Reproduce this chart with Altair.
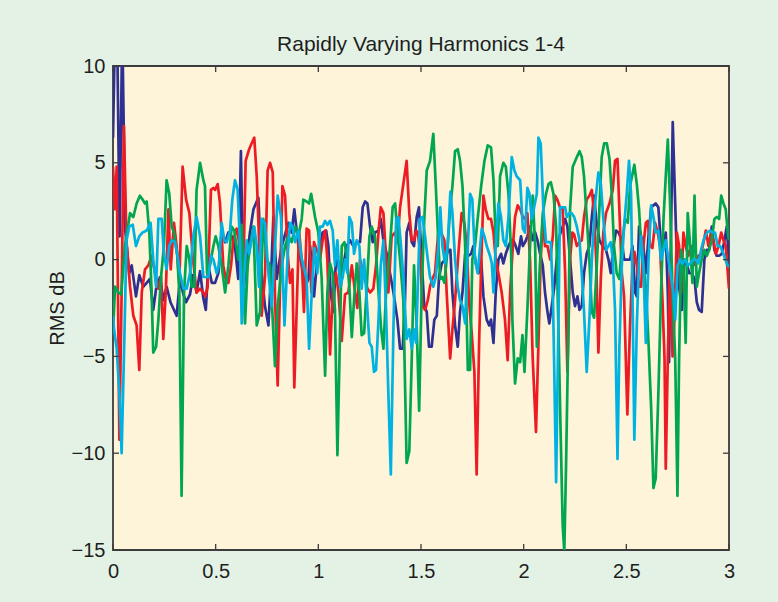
import altair as alt
import pandas as pd

TITLE = "Rapidly Varying Harmonics 1-4"
Y_LABEL = "RMS dB"
X_TICKS = [0, 0.5, 1, 1.5, 2, 2.5, 3]
Y_TICKS = [-15, -10, -5, 0, 5, 10]
SERIES_NAMES = ["Harmonic 1", "Harmonic 2", "Harmonic 3", "Harmonic 4"]
SERIES_COLORS = ["#2E3192", "#ED1C24", "#00A651", "#00B2E2"]

# (time, RMS dB)
BLUE = [(0.0,6.3),(0.01,12),(0.02,12),(0.032,1.2),(0.045,12),(0.06,1.5),(0.079,-0.7),(0.091,-0.3),(0.112,-1.9),(0.128,-0.8),(0.148,-1.4),(0.164,-1.2),(0.18,-1.0),(0.196,-2.6),(0.21,-1.5),(0.229,-0.9),(0.245,-2.1),(0.261,-1.4),(0.28,-2.2),(0.31,-2.9),(0.326,-1.0),(0.343,-1.8),(0.356,-2.2),(0.375,-1.8),(0.39,-0.8),(0.407,-1.7),(0.424,-0.6),(0.44,-2.0),(0.452,-2.6),(0.464,-0.3),(0.481,-1.2),(0.497,-1.2),(0.513,-0.7),(0.529,1.4),(0.546,0.9),(0.562,1.4),(0.578,1.2),(0.594,0.7),(0.61,-1.0),(0.623,5.6),(0.635,-1.7),(0.651,0.0),(0.667,1.4),(0.684,2.6),(0.708,3.2),(0.724,-0.7),(0.74,-2.4),(0.757,-3.4),(0.773,0.0),(0.781,2.2),(0.797,-1.0),(0.822,0.7),(0.854,1.9),(0.87,1.4),(0.883,2.6),(0.903,0.7),(0.919,-0.3),(0.935,-1.4),(0.952,-1.0),(0.96,0.7),(0.973,-0.9),(0.979,-1.9),(0.992,-0.3),(1.005,0.5),(1.021,1.4),(1.038,1.5),(1.049,0.7),(1.06,-1.7),(1.073,-2.7),(1.086,0.0),(1.098,-0.2),(1.109,-1.4),(1.122,-0.3),(1.138,0.7),(1.154,1.0),(1.171,0.7),(1.187,0.9),(1.203,0.9),(1.216,2.7),(1.228,3.0),(1.239,2.9),(1.252,1.7),(1.265,0.9),(1.276,1.4),(1.293,1.5),(1.304,2.1),(1.317,1.0),(1.333,0.3),(1.349,-0.7),(1.366,-1.7),(1.385,-3.1),(1.398,-4.6),(1.411,-4.6),(1.422,-2.1),(1.43,1.4),(1.443,1.9),(1.455,0.9),(1.466,0.7),(1.479,2.2),(1.49,2.7),(1.503,0.0),(1.516,-2.4),(1.528,-2.7),(1.539,-4.5),(1.552,-4.5),(1.565,-3.1),(1.577,-2.9),(1.588,-0.9),(1.601,-0.2),(1.617,0.0),(1.633,0.5),(1.643,0.5),(1.653,-1.7),(1.666,-3.4),(1.679,-4.5),(1.69,-2.7),(1.702,-1.7),(1.715,0.3),(1.731,0.2),(1.744,0.3),(1.755,0.7),(1.767,-0.2),(1.78,-0.7),(1.793,0.0),(1.804,-1.9),(1.82,-3.1),(1.832,-3.4),(1.841,-3.1),(1.853,-4.3),(1.864,-1.7),(1.877,0.0),(1.89,0.3),(1.901,-0.2),(1.913,0.3),(1.926,0.7),(1.939,1.0),(1.95,1.0),(1.961,0.7),(1.974,0.3),(1.987,1.2),(1.996,0.7),(2.007,0.9),(2.018,1.2),(2.031,1.7),(2.044,1.0),(2.056,1.4),(2.067,1.0),(2.08,0.3),(2.093,-0.3),(2.104,-1.7),(2.116,-2.7),(2.125,-3.3),(2.137,-2.4),(2.148,-1.5),(2.161,0.0),(2.174,1.2),(2.19,1.7),(2.202,2.1),(2.213,1.7),(2.226,0.0),(2.239,-1.7),(2.25,-2.4),(2.262,-1.9),(2.272,-2.6),(2.283,-2.4),(2.294,-0.7),(2.307,0.3),(2.32,0.7),(2.332,2.2),(2.343,3.3),(2.353,2.1),(2.369,1.0),(2.385,0.7),(2.401,0.5),(2.413,0.0),(2.424,-0.7),(2.437,0.7),(2.45,1.5),(2.462,1.4),(2.478,1.0),(2.489,0.0),(2.507,0.0),(2.518,0.0),(2.53,0.7),(2.543,-1.7),(2.551,-1.9),(2.562,1.7),(2.572,1.2),(2.583,0.7),(2.595,-0.7),(2.608,1.2),(2.621,2.7),(2.632,2.8),(2.643,2.9),(2.656,2.7),(2.669,0.7),(2.681,0.7),(2.692,1.4),(2.702,-1.7),(2.708,-5.3),(2.718,1.7),(2.726,7.1),(2.738,2.9),(2.746,0.0),(2.757,-1.4),(2.77,-2.6),(2.783,0.0),(2.794,-0.2),(2.806,-0.7),(2.819,-0.7),(2.832,-1.0),(2.843,-2.2),(2.854,-2.6),(2.867,-2.7),(2.88,0.0),(2.892,0.5),(2.903,0.5),(2.916,1.7),(2.929,0.5),(2.94,0.2),(2.952,0.2),(2.965,0.3),(2.978,1.0),(2.989,1.7),(3.0,-0.2)]

RED = [(0.0,4.8),(0.01,2.6),(0.018,4.8),(0.031,-9.3),(0.042,-1.7),(0.053,6.9),(0.066,0.9),(0.083,-1.4),(0.099,-2.9),(0.115,-3.4),(0.128,-5.7),(0.14,-1.7),(0.156,-0.5),(0.172,-0.3),(0.188,0.2),(0.205,-0.7),(0.221,-1.5),(0.234,-0.9),(0.245,-4.1),(0.258,-1.4),(0.27,2.6),(0.281,-0.5),(0.297,1.9),(0.31,0.7),(0.323,-1.2),(0.339,4.8),(0.356,3.1),(0.372,2.4),(0.388,0.2),(0.407,-1.7),(0.424,-1.5),(0.44,-1.7),(0.45,-1.9),(0.461,-1.4),(0.477,3.6),(0.489,3.7),(0.497,3.6),(0.51,3.9),(0.521,2.9),(0.537,-0.3),(0.549,-1.0),(0.562,-1.2),(0.575,-0.3),(0.586,1.0),(0.602,1.6),(0.619,0.7),(0.635,-0.7),(0.646,5.1),(0.663,5.7),(0.675,6.0),(0.688,6.3),(0.7,4.3),(0.713,0.5),(0.724,-2.9),(0.74,-0.9),(0.753,4.6),(0.765,5.0),(0.778,4.5),(0.789,-1.9),(0.802,-6.5),(0.814,-1.2),(0.825,3.8),(0.838,3.3),(0.851,0.3),(0.862,-1.2),(0.874,-0.5),(0.883,-6.6),(0.895,-2.4),(0.906,1.5),(0.919,0.0),(0.93,-2.7),(0.943,1.6),(0.955,1.5),(0.966,-1.7),(0.979,0.9),(0.992,0.5),(1.008,0.0),(1.021,1.0),(1.033,1.5),(1.044,0.0),(1.057,-4.9),(1.07,-1.7),(1.086,-0.7),(1.098,-1.7),(1.114,-4.2),(1.13,-1.8),(1.146,-1.7),(1.163,-0.3),(1.179,-1.7),(1.19,-2.5),(1.203,0.0),(1.219,-0.7),(1.239,-1.5),(1.252,-1.7),(1.268,-1.5),(1.281,-0.3),(1.293,1.4),(1.304,2.7),(1.317,2.4),(1.33,0.0),(1.341,-1.7),(1.357,1.2),(1.374,1.4),(1.385,0.9),(1.398,2.7),(1.414,3.9),(1.43,5.1),(1.443,2.4),(1.455,1.0),(1.466,1.0),(1.477,1.5),(1.484,1.4),(1.495,0.5),(1.507,-2.4),(1.52,-2.6),(1.533,-2.1),(1.544,-1.4),(1.555,-1.0),(1.568,-0.7),(1.585,1.5),(1.598,1.4),(1.614,1.0),(1.625,-1.7),(1.642,-5.1),(1.653,-3.6),(1.666,-2.1),(1.682,0.3),(1.698,2.4),(1.711,1.9),(1.723,0.7),(1.734,-2.2),(1.747,-3.8),(1.76,-5.8),(1.771,-11.1),(1.783,-4.3),(1.793,-0.3),(1.804,3.3),(1.815,2.6),(1.828,2.1),(1.841,2.1),(1.853,1.4),(1.864,0.0),(1.877,-0.7),(1.893,-1.7),(1.909,-3.1),(1.922,-5.2),(1.934,-1.7),(1.945,0.3),(1.958,2.2),(1.971,2.8),(1.983,2.6),(1.996,2.2),(2.007,2.1),(2.018,2.4),(2.031,0.0),(2.044,-5.1),(2.06,-8.9),(2.072,-4.3),(2.083,0.0),(2.093,2.1),(2.104,0.7),(2.116,0.7),(2.129,0.0),(2.142,1.2),(2.153,3.3),(2.164,3.1),(2.177,2.7),(2.19,2.6),(2.202,-0.7),(2.213,-5.8),(2.226,0.0),(2.237,1.4),(2.246,1.3),(2.259,0.7),(2.272,0.9),(2.283,1.0),(2.294,2.2),(2.307,3.1),(2.32,3.3),(2.332,3.6),(2.343,2.4),(2.353,0.0),(2.364,-4.8),(2.376,-0.9),(2.388,1.4),(2.401,2.4),(2.418,2.9),(2.434,3.6),(2.445,5.1),(2.457,5.2),(2.466,2.6),(2.478,-0.7),(2.489,-1.9),(2.505,-8.0),(2.518,-3.4),(2.53,-0.3),(2.539,0.4),(2.551,-0.3),(2.562,-1.4),(2.572,-1.4),(2.583,0.7),(2.595,1.9),(2.604,2.0),(2.616,0.7),(2.627,0.6),(2.64,1.9),(2.653,1.4),(2.664,0.7),(2.676,-2.1),(2.686,-5.1),(2.692,-10.8),(2.702,-5.1),(2.713,0.0),(2.725,-5.0),(2.734,-3.1),(2.746,1.4),(2.757,0.7),(2.767,-1.7),(2.778,1.4),(2.789,0.7),(2.802,0.2),(2.815,0.7),(2.827,-0.3),(2.838,0.0),(2.851,0.2),(2.864,0.3),(2.876,0.9),(2.887,1.5),(2.9,0.7),(2.913,1.4),(2.924,1.0),(2.936,0.3),(2.949,0.7),(2.962,1.4),(2.973,1.0),(2.984,0.7),(3.0,-1.5)]

GREEN = [(0.0,-3.8),(0.01,-1.4),(0.026,-1.7),(0.04,-1.8),(0.058,0.7),(0.083,2.4),(0.099,2.2),(0.115,2.9),(0.131,3.3),(0.144,3.1),(0.156,2.9),(0.164,3.0),(0.177,1.4),(0.188,-1.7),(0.196,-4.8),(0.21,-4.5),(0.221,-3.1),(0.234,-0.9),(0.248,0.7),(0.261,4.1),(0.274,3.4),(0.286,1.7),(0.297,1.4),(0.313,0.2),(0.323,-1.7),(0.334,-12.2),(0.346,-1.7),(0.359,0.7),(0.372,0.0),(0.383,-1.4),(0.396,-1.4),(0.407,3.6),(0.424,5.0),(0.44,4.1),(0.448,3.8),(0.458,-0.7),(0.472,-0.3),(0.489,0.7),(0.5,1.2),(0.513,0.7),(0.529,-0.3),(0.546,-1.7),(0.562,-0.3),(0.578,1.7),(0.591,1.5),(0.61,0.0),(0.627,1.8),(0.643,-3.3),(0.656,-0.3),(0.667,0.7),(0.684,1.7),(0.7,-3.4),(0.716,-2.7),(0.732,2.1),(0.749,0.0),(0.765,-0.3),(0.776,-2.7),(0.789,-5.5),(0.802,-2.4),(0.822,-0.3),(0.838,0.7),(0.854,1.2),(0.87,0.9),(0.887,1.7),(0.903,1.2),(0.919,2.1),(0.927,3.1),(0.943,3.0),(0.955,2.9),(0.965,3.4),(0.984,2.2),(1.0,1.4),(1.016,-0.9),(1.033,-6.0),(1.044,-1.7),(1.057,-0.2),(1.07,-0.7),(1.081,-2.6),(1.093,-10.1),(1.103,-5.1),(1.114,0.7),(1.127,0.9),(1.138,0.2),(1.151,-1.4),(1.163,-4.0),(1.174,-2.1),(1.187,-0.2),(1.2,-1.7),(1.211,-3.9),(1.223,-3.8),(1.236,-1.4),(1.249,1.2),(1.26,1.7),(1.276,1.2),(1.293,-1.7),(1.306,-3.6),(1.317,-4.6),(1.33,-1.7),(1.349,0.7),(1.362,2.7),(1.374,2.9),(1.385,1.4),(1.398,0.0),(1.414,-2.1),(1.43,-10.5),(1.443,-9.9),(1.455,-5.1),(1.466,-0.3),(1.479,-3.4),(1.491,-7.8),(1.503,-1.7),(1.516,2.1),(1.528,4.6),(1.544,5.1),(1.56,6.5),(1.572,3.8),(1.581,1.7),(1.593,-1.0),(1.604,-0.9),(1.614,-1.2),(1.625,0.0),(1.642,2.6),(1.653,3.8),(1.666,5.6),(1.679,5.7),(1.69,5.1),(1.702,3.8),(1.715,0.7),(1.728,-5.7),(1.739,-5.7),(1.75,0.0),(1.763,0.7),(1.776,2.1),(1.793,3.8),(1.809,5.1),(1.825,5.9),(1.841,5.8),(1.853,4.1),(1.864,1.0),(1.874,0.7),(1.885,4.3),(1.901,5.0),(1.913,4.8),(1.926,3.4),(1.939,0.3),(1.945,-3.1),(1.958,-6.4),(1.971,-5.1),(1.983,-5.3),(1.994,-3.9),(2.004,-5.8),(2.018,-2.6),(2.031,0.7),(2.044,3.3),(2.056,0.7),(2.064,-4.5),(2.077,-0.7),(2.093,2.4),(2.109,3.4),(2.121,3.9),(2.132,4.0),(2.145,3.4),(2.158,1.7),(2.169,-3.4),(2.181,-9.4),(2.19,-13.7),(2.198,-15.1),(2.207,-10.3),(2.218,-3.4),(2.226,2.6),(2.239,4.8),(2.255,5.2),(2.272,5.6),(2.283,5.3),(2.294,4.3),(2.307,2.2),(2.32,0.0),(2.332,-2.7),(2.343,-3.0),(2.356,-0.3),(2.369,2.7),(2.38,5.3),(2.392,6.0),(2.405,6.0),(2.418,5.2),(2.429,3.4),(2.44,0.7),(2.453,-0.7),(2.466,-1.0),(2.478,0.7),(2.494,2.1),(2.507,1.9),(2.518,3.8),(2.539,4.9),(2.551,3.9),(2.562,2.6),(2.572,0.7),(2.583,-0.3),(2.595,-1.4),(2.608,-4.3),(2.621,-7.7),(2.632,-11.8),(2.643,-11.3),(2.656,-6.9),(2.669,-1.7),(2.681,2.1),(2.692,4.3),(2.702,6.2),(2.713,2.9),(2.725,-1.7),(2.738,-5.1),(2.749,-12.2),(2.757,-5.1),(2.767,0.5),(2.778,-0.3),(2.789,-4.3),(2.799,2.4),(2.811,0.7),(2.822,-1.2),(2.832,3.3),(2.843,-1.4),(2.854,-0.7),(2.867,0.0),(2.88,0.5),(2.892,0.2),(2.903,0.5),(2.916,1.0),(2.929,2.1),(2.94,2.2),(2.952,2.1),(2.962,3.3),(2.973,2.9),(2.984,2.6),(2.994,1.4),(3.0,1.0)]

CYAN = [(0.0,-2.9),(0.005,-3.6),(0.018,-4.6),(0.031,-6.9),(0.042,-10.0),(0.053,-5.1),(0.066,1.0),(0.079,1.7),(0.096,1.8),(0.112,0.7),(0.128,1.2),(0.144,1.4),(0.164,1.5),(0.183,1.9),(0.196,0.0),(0.21,-1.4),(0.221,2.1),(0.237,2.1),(0.248,0.3),(0.261,-0.5),(0.274,0.7),(0.286,1.0),(0.302,0.9),(0.313,0.3),(0.326,-0.7),(0.343,-1.5),(0.359,-1.5),(0.375,-0.7),(0.391,1.2),(0.407,2.2),(0.424,1.2),(0.44,-0.9),(0.464,-0.9),(0.477,0.2),(0.489,0.0),(0.505,-0.7),(0.516,-0.3),(0.529,1.9),(0.542,1.0),(0.554,0.9),(0.57,1.5),(0.581,3.1),(0.594,4.1),(0.607,3.6),(0.619,0.7),(0.627,-3.3),(0.64,-0.7),(0.651,1.0),(0.663,0.3),(0.675,1.0),(0.688,1.7),(0.7,0.7),(0.711,-1.4),(0.724,2.1),(0.74,1.9),(0.757,-0.7),(0.773,-2.4),(0.786,0.0),(0.802,3.3),(0.818,2.2),(0.835,-3.4),(0.851,0.3),(0.862,1.9),(0.874,1.7),(0.887,0.9),(0.903,1.5),(0.916,0.2),(0.927,-0.3),(0.943,-1.0),(0.955,-4.6),(0.968,-1.7),(0.981,0.6),(0.995,-0.7),(1.008,1.7),(1.021,1.7),(1.033,2.0),(1.044,1.8),(1.057,2.0),(1.07,1.5),(1.081,-0.3),(1.093,1.0),(1.106,-1.4),(1.119,-0.9),(1.13,0.0),(1.141,-0.7),(1.151,2.2),(1.163,1.9),(1.174,0.3),(1.187,1.0),(1.2,0.7),(1.211,-1.5),(1.223,0.0),(1.236,-2.1),(1.249,-4.3),(1.26,-4.5),(1.271,-5.8),(1.281,-5.7),(1.293,-3.1),(1.304,-0.3),(1.317,1.0),(1.33,-2.7),(1.341,-6.9),(1.353,-11.1),(1.366,-3.4),(1.379,2.1),(1.39,2.2),(1.401,0.9),(1.414,-0.9),(1.43,-4.1),(1.443,-3.6),(1.455,-4.6),(1.466,-3.6),(1.476,-4.3),(1.487,-0.5),(1.495,2.1),(1.507,2.2),(1.52,1.2),(1.533,0.0),(1.544,-0.9),(1.56,-1.4),(1.572,-0.9),(1.585,0.7),(1.594,2.7),(1.604,0.7),(1.617,-0.2),(1.63,0.7),(1.643,3.5),(1.653,2.4),(1.666,0.0),(1.679,-1.4),(1.69,-2.1),(1.702,-2.4),(1.715,-3.3),(1.728,0.7),(1.739,3.4),(1.75,3.1),(1.763,0.0),(1.776,-0.7),(1.788,0.7),(1.796,1.6),(1.809,1.2),(1.82,0.7),(1.836,0.2),(1.845,-0.2),(1.853,-1.7),(1.864,0.7),(1.877,2.9),(1.89,2.2),(1.901,1.0),(1.913,0.7),(1.926,2.2),(1.942,5.3),(1.955,4.6),(1.966,4.3),(1.983,4.1),(1.996,1.6),(2.007,1.4),(2.018,3.7),(2.028,3.4),(2.039,2.1),(2.051,2.7),(2.064,3.4),(2.072,6.3),(2.083,6.0),(2.096,2.6),(2.109,0.9),(2.121,0.9),(2.132,0.9),(2.142,-1.7),(2.148,-5.1),(2.158,-11.5),(2.169,-3.4),(2.177,2.7),(2.19,2.7),(2.202,2.7),(2.21,2.2),(2.223,2.4),(2.234,2.4),(2.246,2.2),(2.259,1.7),(2.272,1.0),(2.283,-0.7),(2.294,-2.7),(2.307,-5.8),(2.32,-3.1),(2.332,0.0),(2.348,2.9),(2.364,4.5),(2.376,3.9),(2.388,2.1),(2.401,0.5),(2.413,0.7),(2.424,0.9),(2.434,0.0),(2.445,-2.6),(2.457,-10.3),(2.466,-4.6),(2.478,-0.3),(2.489,1.7),(2.502,3.4),(2.513,5.1),(2.523,3.4),(2.53,-1.7),(2.539,-9.3),(2.551,-3.4),(2.562,0.0),(2.572,1.2),(2.583,-0.3),(2.595,-4.3),(2.608,0.0),(2.621,2.8),(2.632,2.2),(2.643,1.4),(2.656,1.5),(2.669,0.0),(2.681,0.5),(2.692,1.0),(2.705,0.0),(2.718,-0.9),(2.729,-1.7),(2.738,-3.1),(2.75,-0.3),(2.762,0.0),(2.773,-0.2),(2.786,0.0),(2.799,-0.3),(2.811,-0.2),(2.827,0.0),(2.838,0.0),(2.851,-0.2),(2.864,0.5),(2.876,1.0),(2.892,1.4),(2.908,1.5),(2.919,1.4),(2.932,1.4),(2.945,0.7),(2.957,0.7),(2.973,0.3),(2.989,-0.2),(3.0,-0.4)]

FONT = "Liberation Sans"
TEXT_COLOR = "#1e1e1e"
FRAME_COLOR = "#3c3c3c"
W, H = 616, 484

xscale = alt.Scale(domain=[0, 3], nice=False, zero=False)
yscale = alt.Scale(domain=[-15, 10], nice=False, zero=False)

x_axis = alt.Axis(values=X_TICKS, format="~g", title=None, grid=False, domain=False,
                  ticks=False, tickSize=0, labelFont=FONT, labelFontSize=20,
                  labelColor=TEXT_COLOR, labelPadding=11, labelFlush=False)
y_axis = alt.Axis(values=Y_TICKS, format="~g", title=Y_LABEL, grid=False, domain=False,
                  ticks=False, tickSize=0, labelFont=FONT, labelFontSize=20,
                  labelColor=TEXT_COLOR, labelPadding=8, labelFlush=False,
                  titleFont=FONT, titleFontSize=20, titleFontWeight="normal",
                  titleColor=TEXT_COLOR, titlePadding=4)

all_series = [BLUE, RED, GREEN, CYAN]
layers = []
for pts, name, col in zip(all_series, SERIES_NAMES, SERIES_COLORS):
    df = pd.DataFrame(pts, columns=["t", "v"])
    df["series"] = name
    layers.append(
        alt.Chart(df).mark_line(color=col, strokeWidth=2.7, clip=True, strokeJoin="round").encode(
            x=alt.X("t:Q", scale=xscale, axis=x_axis),
            y=alt.Y("v:Q", scale=yscale, axis=y_axis),
        )
    )

xt = pd.DataFrame({"t": X_TICKS})
yt = pd.DataFrame({"v": Y_TICKS})
tick_style = dict(color=FRAME_COLOR, strokeWidth=1.3)
bottom_ticks = alt.Chart(xt).mark_rule(**tick_style).encode(
    x=alt.X("t:Q", scale=xscale, axis=x_axis), y=alt.value(H), y2=alt.value(H - 6))
top_ticks = alt.Chart(xt).mark_rule(**tick_style).encode(
    x=alt.X("t:Q", scale=xscale, axis=x_axis), y=alt.value(0), y2=alt.value(6))
left_ticks = alt.Chart(yt).mark_rule(**tick_style).encode(
    y=alt.Y("v:Q", scale=yscale, axis=y_axis), x=alt.value(0), x2=alt.value(6))
right_ticks = alt.Chart(yt).mark_rule(**tick_style).encode(
    y=alt.Y("v:Q", scale=yscale, axis=y_axis), x=alt.value(W), x2=alt.value(W - 6))

chart = alt.layer(*layers, bottom_ticks, top_ticks, left_ticks, right_ticks).properties(
    width=W, height=H,
    title=alt.TitleParams(TITLE, font=FONT, fontSize=21, fontWeight="normal",
                          color=TEXT_COLOR, anchor="middle", offset=1),
    background="#E4F2E5",
    autosize=alt.AutoSizeParams(type="none"),
    padding={"left": 113, "top": 66, "right": 49, "bottom": 52},
).configure_view(
    fill="#FDF4D9", stroke=FRAME_COLOR, strokeWidth=1.8
)

chart.save("out.html", embed_options={"renderer": "svg", "actions": False})
